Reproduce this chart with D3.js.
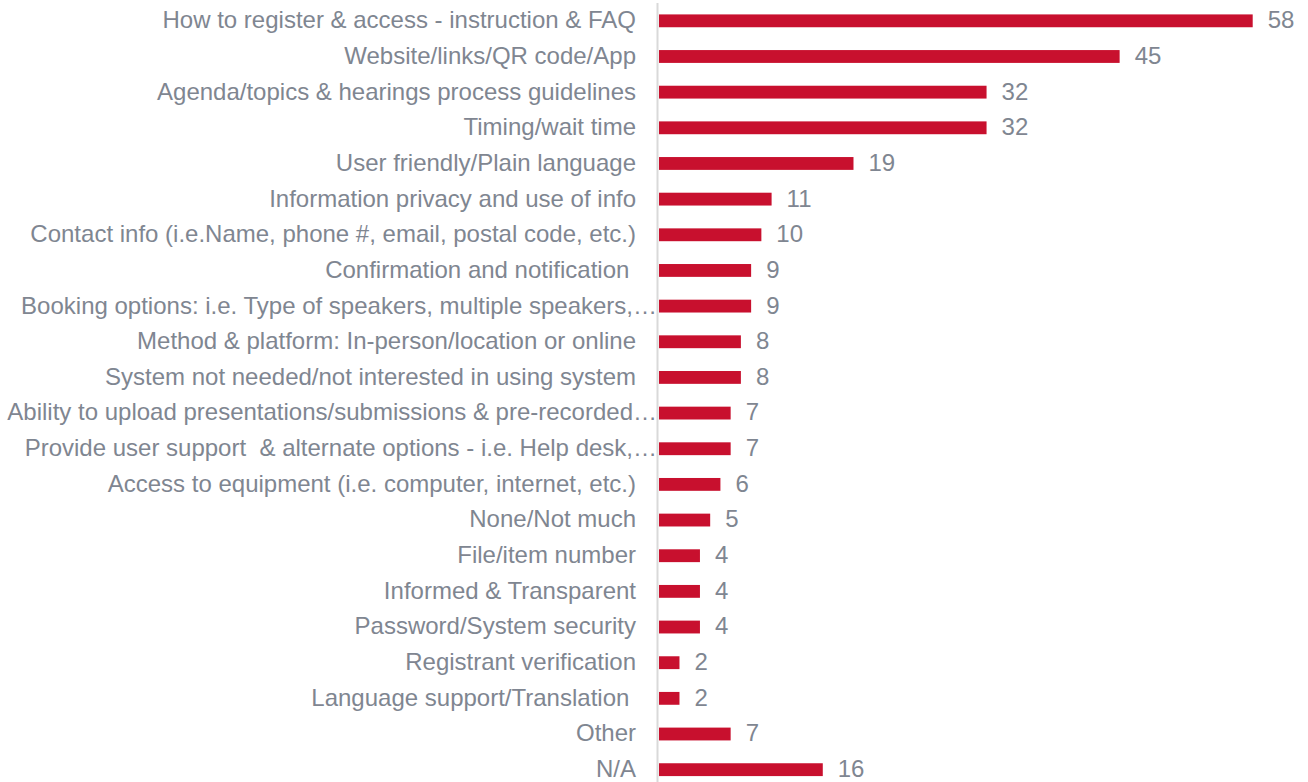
<!DOCTYPE html>
<html>
<head>
<meta charset="utf-8">
<script src="https://cdn.jsdelivr.net/npm/d3@7"></script>
<style>
  body { margin: 0; background: #fff; }
  text { font-family: "Liberation Sans", Arial, sans-serif; }
</style>
</head>
<body>
<div class="canvas"></div>
<script>
const categories = [
    'How to register & access - instruction & FAQ',
    'Website/links/QR code/App',
    'Agenda/topics & hearings process guidelines',
    'Timing/wait time',
    'User friendly/Plain language',
    'Information privacy and use of info',
    'Contact info (i.e.Name, phone #, email, postal code, etc.)',
    'Confirmation and notification ',
    'Booking options: i.e. Type of speakers, multiple speakers,…',
    'Method & platform: In-person/location or online',
    'System not needed/not interested in using system',
    'Ability to upload presentations/submissions & pre-recorded…',
    'Provide user support  & alternate options - i.e. Help desk,…',
    'Access to equipment (i.e. computer, internet, etc.)',
    'None/Not much',
    'File/item number',
    'Informed & Transparent',
    'Password/System security',
    'Registrant verification',
    'Language support/Translation ',
    'Other',
    'N/A'
];
const counts = [58, 45, 32, 32, 19, 11, 10, 9, 9, 8, 8, 7, 7, 6, 5, 4, 4, 4, 2, 2, 7, 16];

const dimentions = { width: 1308, height: 782 };
const margin = { left: 659, top: 3 };

const svg = d3.select('.canvas')
    .append('svg')
    .attr('width', dimentions.width)
    .attr('height', dimentions.height)

// scales
const x = d3.scaleLinear()
    .domain([0, 58])
    .range([margin.left, 1252.7]);

const y = d3.scaleBand()
    .domain(categories)
    .range([margin.top, 787.5])
    .paddingInner(0.64)
    .paddingOuter(0.32);

const rows = categories.map((c, i) => ({ name: c, value: counts[i] }));

// bars
svg.selectAll('.bar')
    .data(rows)
    .enter()
    .append('rect')
    .attr('class', 'bar')
    .attr('x', x(0))
    .attr('y', d => y(d.name))
    .attr('width', d => x(d.value) - x(0))
    .attr('height', y.bandwidth())
    .attr('fill', '#C8102E');

// axis line
svg.append('line')
    .attr('x1', 657.5).attr('x2', 657.5)
    .attr('y1', 3).attr('y2', 782)
    .attr('stroke', '#d9d9d9')
    .attr('stroke-width', 2);

// category labels (truncated ones run up to the axis)
svg.selectAll('.label')
    .data(rows)
    .enter()
    .append('text')
    .attr('class', 'label')
    .attr('x', d => d.name.endsWith('…') ? 657 : 636)
    .attr('y', d => y(d.name) + y.bandwidth() / 2 - 1)
    .attr('dy', '0.35em')
    .attr('text-anchor', 'end')
    .style('white-space', 'pre')
    .attr('font-size', 24)
    .attr('fill', '#7f8691')
    .text(d => d.name);

// value labels
svg.selectAll('.value')
    .data(rows)
    .enter()
    .append('text')
    .attr('class', 'value')
    .attr('x', d => x(d.value) + 15)
    .attr('y', d => y(d.name) + y.bandwidth() / 2 - 1)
    .attr('dy', '0.35em')
    .attr('font-size', 24)
    .attr('fill', '#7f8691')
    .text(d => d.value);
</script>
</body>
</html>
